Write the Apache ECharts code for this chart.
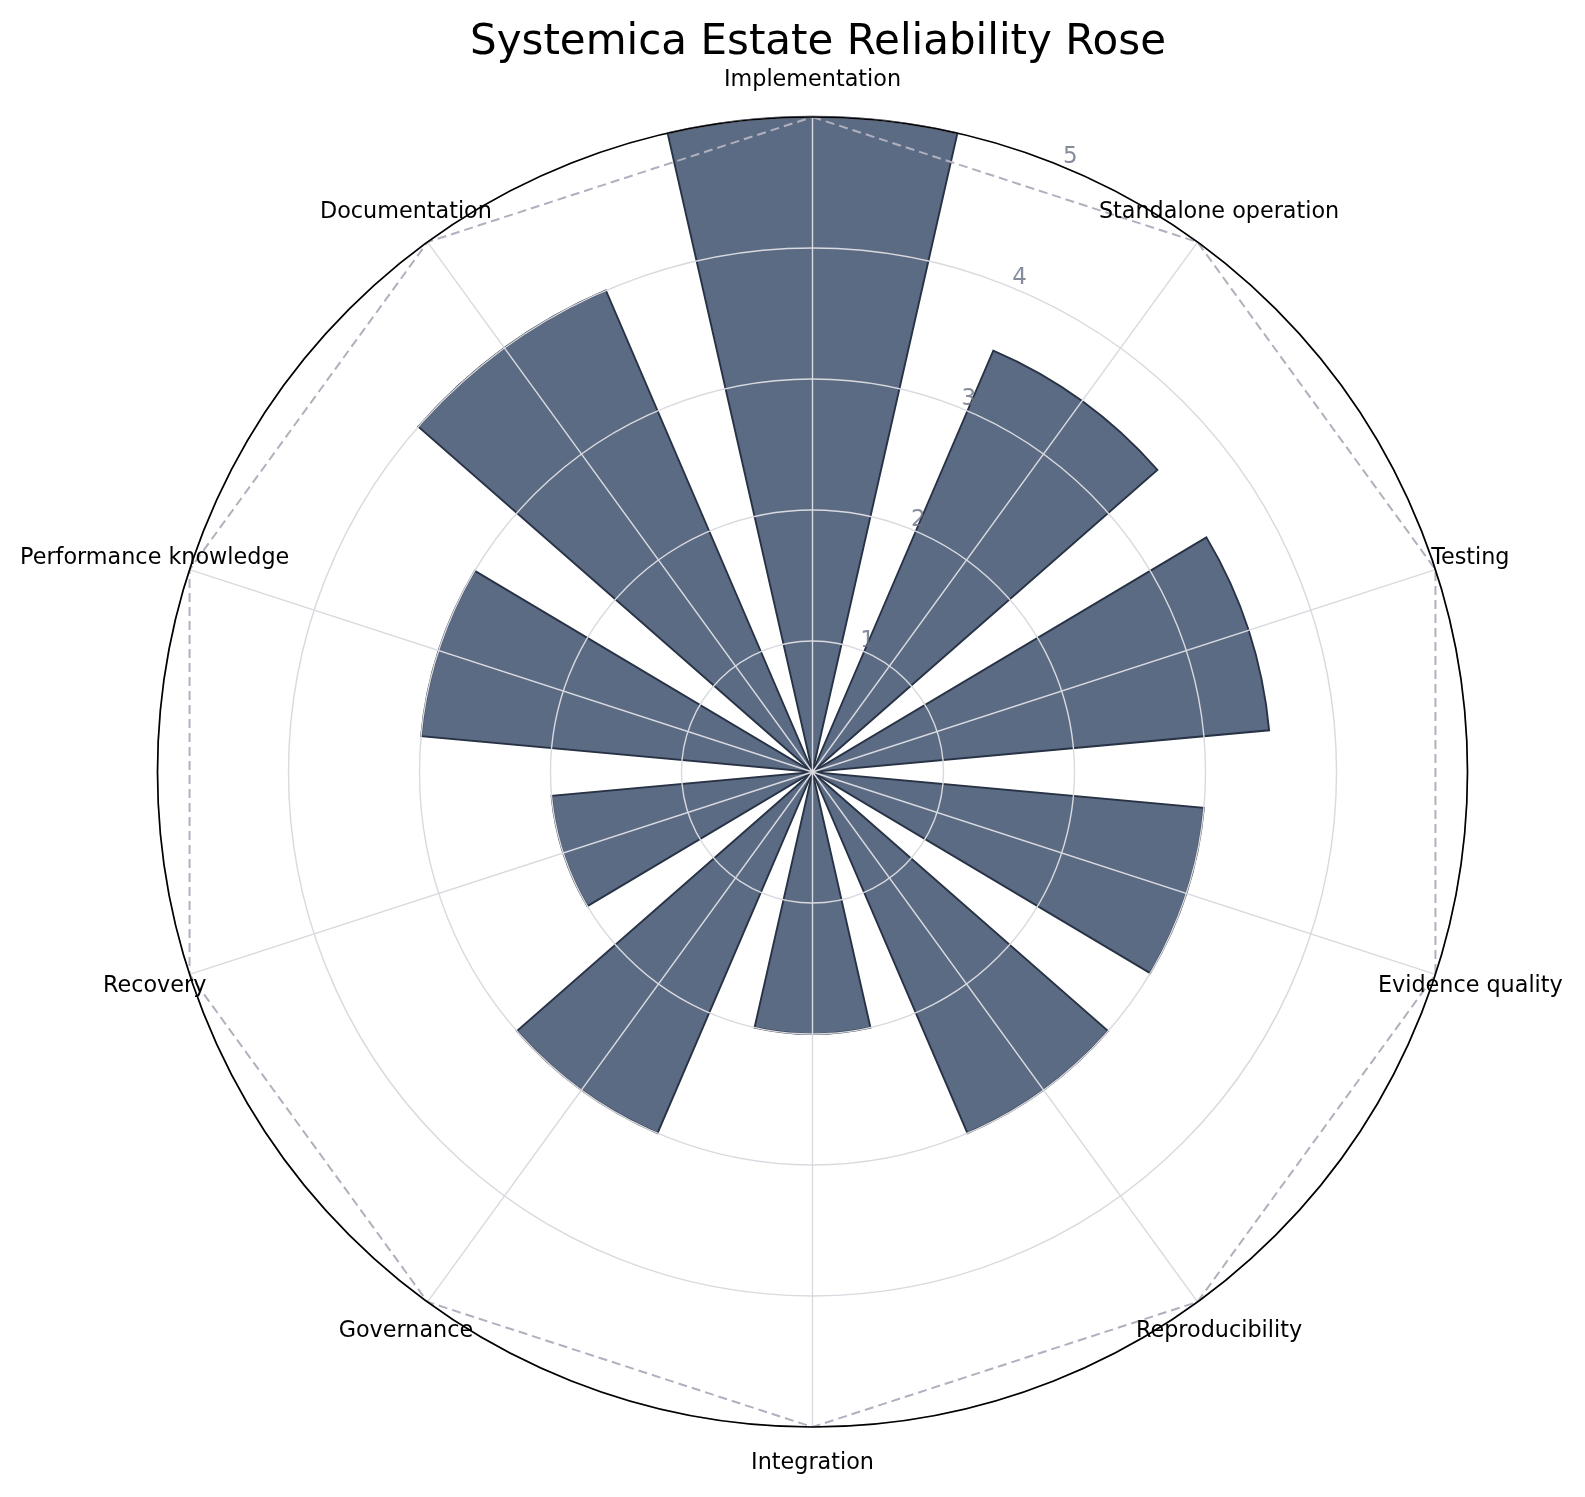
<!DOCTYPE html>
<html>
<head>
<meta charset="utf-8">
<script src="https://cdn.jsdelivr.net/npm/echarts@6/dist/echarts.min.js"></script>
<style>
  html, body { margin: 0; padding: 0; background: #ffffff; }
  #chart { width: 1585px; height: 1497px; }
</style>
</head>
<body>
<div id="chart"></div>
<script>
// ---- data ----
const categories = [
  'Implementation', 'Standalone operation', 'Testing', 'Evidence quality',
  'Reproducibility', 'Integration', 'Governance', 'Recovery',
  'Performance knowledge', 'Documentation'
];
const scores = [5.0, 3.5, 3.5, 3.0, 3.0, 2.0, 3.0, 2.0, 3.0, 4.0];
const radialTicks = [1, 2, 3, 4, 5];
const maxScore = 5;
const chartTitle = 'Systemica Estate Reliability Rose';

// ---- layout / style ----
const CENTER = [812.5, 772];
const RADIUS = 655;
const OUTER_MAX = 6;                          // label polar extends beyond the plot
const OUTER_RADIUS = RADIUS * OUTER_MAX / maxScore;
const FONT = 'DejaVu Sans, Noto Sans, sans-serif';
const labelRadius = 5.28;          // category label ring (in data units)
const rLabelAngle = 22.75;         // degrees clockwise from top
const rLabelOffset = 0.088;        // outward shift of radial labels

const chart = echarts.init(document.getElementById('chart'), null, { renderer: 'canvas' });

const hiddenAxis = {
  axisLine: { show: false },
  axisTick: { show: false },
  axisLabel: { show: false },
  splitLine: { show: false }
};

const option = {
  backgroundColor: '#ffffff',
  animation: false,
  title: {
    text: chartTitle,
    left: 813,
    textAlign: 'center',
    top: 17,
    textStyle: { fontFamily: FONT, fontSize: 42, fontWeight: 'normal', color: '#000000' }
  },
  polar: [
    { center: CENTER, radius: [0, RADIUS] },
    { center: CENTER, radius: [0, RADIUS] },
    { center: CENTER, radius: [0, OUTER_RADIUS] },
    { center: CENTER, radius: [0, OUTER_RADIUS] }
  ],
  angleAxis: [
    {
      polarIndex: 0,
      type: 'category',
      data: categories,
      startAngle: 90 + 18,
      clockwise: true,
      boundaryGap: true,
      z: 10,
      axisLine: { show: true, lineStyle: { color: '#000000', width: 1.7 } },
      axisTick: { show: false },
      axisLabel: { show: false },
      splitLine: { show: false }
    },
    {
      polarIndex: 1,
      type: 'value',
      min: 0,
      max: 360,
      interval: 36,
      startAngle: 90,
      clockwise: true,
      z: 5,
      axisLine: { show: false },
      axisTick: { show: false },
      axisLabel: { show: false },
      splitLine: { show: true, lineStyle: { color: '#d9dadf', width: 1.4 } }
    },
    Object.assign({
      polarIndex: 2,
      type: 'category',
      data: categories,
      startAngle: 90 + 18,
      clockwise: true,
      boundaryGap: true
    }, hiddenAxis),
    Object.assign({
      polarIndex: 3,
      type: 'value',
      min: 0,
      max: 360,
      startAngle: 90,
      clockwise: true
    }, hiddenAxis)
  ],
  radiusAxis: [
    Object.assign({ polarIndex: 0, type: 'value', min: 0, max: maxScore }, hiddenAxis),
    {
      polarIndex: 1,
      type: 'value',
      min: 0,
      max: maxScore,
      interval: 1,
      z: 5,
      axisLine: { show: false },
      axisTick: { show: false },
      axisLabel: { show: false },
      splitLine: { show: true, lineStyle: { color: '#d9dadf', width: 1.4 } }
    },
    Object.assign({ polarIndex: 2, type: 'value', min: 0, max: OUTER_MAX }, hiddenAxis),
    Object.assign({ polarIndex: 3, type: 'value', min: 0, max: OUTER_MAX }, hiddenAxis)
  ],
  series: [
    {
      type: 'bar',
      coordinateSystem: 'polar',
      polarIndex: 0,
      data: scores,
      barWidth: '71%',
      z: 2,
      itemStyle: { color: '#5b6b84', borderColor: '#283245', borderWidth: 1.9 }
    },
    {
      type: 'line',
      coordinateSystem: 'polar',
      polarIndex: 0,
      data: categories.map(c => [maxScore, c]).concat([[maxScore, categories[0]]]),
      symbol: 'none',
      z: 6,
      silent: true,
      lineStyle: { color: '#b0b0be', width: 2, type: [9, 5] }
    },
    {
      type: 'scatter',
      coordinateSystem: 'polar',
      polarIndex: 2,
      data: categories.map(c => ({ name: c, value: [labelRadius, c] })),
      symbolSize: 0.1,
      z: 12,
      silent: true,
      itemStyle: { color: 'rgba(0,0,0,0)' },
      label: {
        show: true,
        position: 'inside',
        formatter: '{b}',
        fontFamily: FONT,
        fontSize: 22.3,
        color: '#000000',
        opacity: 1,
        textBorderWidth: 0,
        align: 'center',
        verticalAlign: 'middle'
      }
    },
    {
      type: 'scatter',
      coordinateSystem: 'polar',
      polarIndex: 3,
      data: radialTicks.map(v => ({ name: String(v), value: [v + rLabelOffset, rLabelAngle] })),
      symbolSize: 0.1,
      z: 12,
      silent: true,
      itemStyle: { color: 'rgba(0,0,0,0)' },
      label: {
        show: true,
        position: 'inside',
        formatter: '{b}',
        fontFamily: FONT,
        fontSize: 23,
        color: '#666f82',
        textBorderWidth: 0,
        align: 'center',
        verticalAlign: 'middle'
      }
    }
  ]
};

chart.setOption(option);
</script>
</body>
</html>
